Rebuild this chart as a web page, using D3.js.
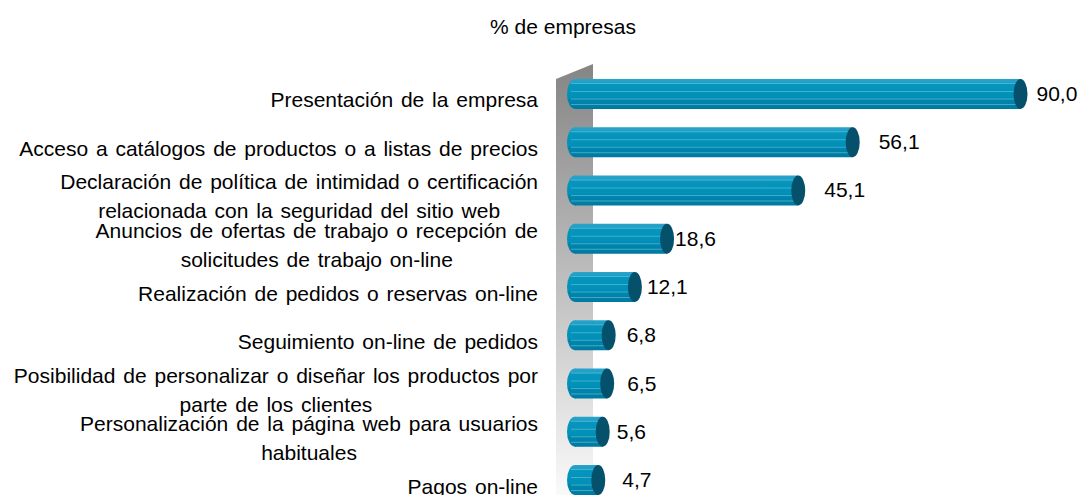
<!DOCTYPE html>
<html>
<head>
<meta charset="utf-8">
<script src="https://cdn.jsdelivr.net/npm/d3@7.9.0/dist/d3.min.js"></script>
<style>
  body { margin: 0; background: #fff; }
  text { font-family: "Liberation Sans", Arial, sans-serif; fill: #000; }
  .cat text { word-spacing: 2px; }
</style>
</head>
<body>
<div id="chart"></div>
<script>
// datos
const categoryLines = [
  ["Presentación de la empresa"],
  ["Acceso a catálogos de productos o a listas de precios"],
  ["Declaración de política de intimidad o certificación", "relacionada con la seguridad del sitio web"],
  ["Anuncios de ofertas de trabajo o recepción de", "solicitudes de trabajo on-line"],
  ["Realización de pedidos o reservas on-line"],
  ["Seguimiento on-line de pedidos"],
  ["Posibilidad de personalizar o diseñar los productos por", "parte de los clientes"],
  ["Personalización de la página web para usuarios", "habituales"],
  ["Pagos on-line"]
];
const values = [90.0, 56.1, 45.1, 18.6, 12.1, 6.8, 6.5, 5.6, 4.7];
const valueLabels = ["90,0", "56,1", "45,1", "18,6", "12,1", "6,8", "6,5", "5,6", "4,7"];
const title = "% de empresas";

// desplazamiento horizontal de cada etiqueta de valor (como en el original)
const labelNudge = [16, 26, 26, 8, 12, 18, 20, 14, 24];

const width = 1080;
const height = 495;
const fontSize = 21;
const labelRight = 538;

const svg = d3.select('#chart')
  .append('svg')
  .attr('width', width)
  .attr('height', height);

const defs = svg.append('defs');

// degradado de la pared
const wallGrad = defs.append('linearGradient')
  .attr('id', 'wallGrad')
  .attr('x1', 0).attr('y1', 0).attr('x2', 0).attr('y2', 1);
wallGrad.append('stop').attr('offset', 0).attr('stop-color', '#858585');
wallGrad.append('stop').attr('offset', 0.55).attr('stop-color', '#c4c4c4');
wallGrad.append('stop').attr('offset', 1).attr('stop-color', '#fafafa');

// degradado de las barras
const barGrad = defs.append('linearGradient')
  .attr('id', 'barGrad')
  .attr('x1', 0).attr('y1', 0).attr('x2', 0).attr('y2', 1);
[
  [0, '#2aa4ca'], [0.16, '#1b9dc5'], [0.18, '#0795bc'],
  [0.6, '#0090b8'], [0.66, '#0087ae'], [1, '#0079a0']
].forEach(([o, c]) => barGrad.append('stop').attr('offset', o).attr('stop-color', c));

// escalas
const x = d3.scaleLinear()
  .domain([0, 100])
  .range([575, 1070]);

const y = d3.scaleBand()
  .domain(d3.range(values.length))
  .range([60.75, 513.25])
  .padding(0.378);

const bh = y.bandwidth();

// pared del eje (3D)
svg.append('path')
  .attr('d', `M556,79 L593,64 L593,${height} L556,${height} Z`)
  .attr('fill', 'url(#wallGrad)');

// título
svg.append('text')
  .attr('x', 563)
  .attr('y', 34)
  .attr('text-anchor', 'middle')
  .style('font-size', fontSize + 'px')
  .text(title);

// barras
const bars = svg.selectAll('g.bar')
  .data(values)
  .join('g')
  .attr('class', 'bar')
  .attr('transform', (d, i) => `translate(0, ${y(i)})`);

// extremo izquierdo redondeado
bars.append('ellipse')
  .attr('cx', x(0))
  .attr('cy', bh / 2)
  .attr('rx', 8)
  .attr('ry', bh / 2)
  .attr('fill', 'url(#barGrad)');

bars.append('rect')
  .attr('x', x(0))
  .attr('y', 0)
  .attr('width', d => x(d) - x(0))
  .attr('height', bh)
  .attr('fill', 'url(#barGrad)');

// rayas claras
const stripes = [4.5, 12.5, 20, 25.5];
stripes.forEach(s => {
  bars.append('line')
    .attr('x1', x(0) - 4)
    .attr('x2', d => x(d))
    .attr('y1', s)
    .attr('y2', s)
    .attr('stroke', '#5cbcdb')
    .attr('stroke-opacity', 0.7)
    .attr('stroke-width', 1);
});

// tapa derecha
bars.append('ellipse')
  .attr('cx', d => x(d))
  .attr('cy', bh / 2)
  .attr('rx', 7)
  .attr('ry', bh / 2)
  .attr('fill', '#05506b');

// etiquetas de valor
svg.selectAll('text.value')
  .data(values)
  .join('text')
  .attr('class', 'value')
  .attr('x', (d, i) => x(d) + labelNudge[i])
  .attr('y', (d, i) => y(i) + bh / 2 + 7)
  .style('font-size', fontSize + 'px')
  .text((d, i) => valueLabels[i]);

// etiquetas de categoría (centradas por bloque, alineadas a la derecha)
const cats = svg.selectAll('g.cat')
  .data(categoryLines)
  .join('g')
  .attr('class', 'cat');

cats.each(function (lines, i) {
  const g = d3.select(this);
  const base = y(i) + bh / 2 + 13.5 - (lines.length - 1) * 14.5;
  const texts = lines.map((line, k) => g.append('text')
    .attr('y', base + k * 29)
    .style('font-size', fontSize + 'px')
    .attr('text-anchor', 'middle')
    .text(line));
  const maxW = d3.max(texts, t => t.node().getComputedTextLength());
  texts.forEach(t => t.attr('x', labelRight - maxW / 2));
});
</script>
</body>
</html>
